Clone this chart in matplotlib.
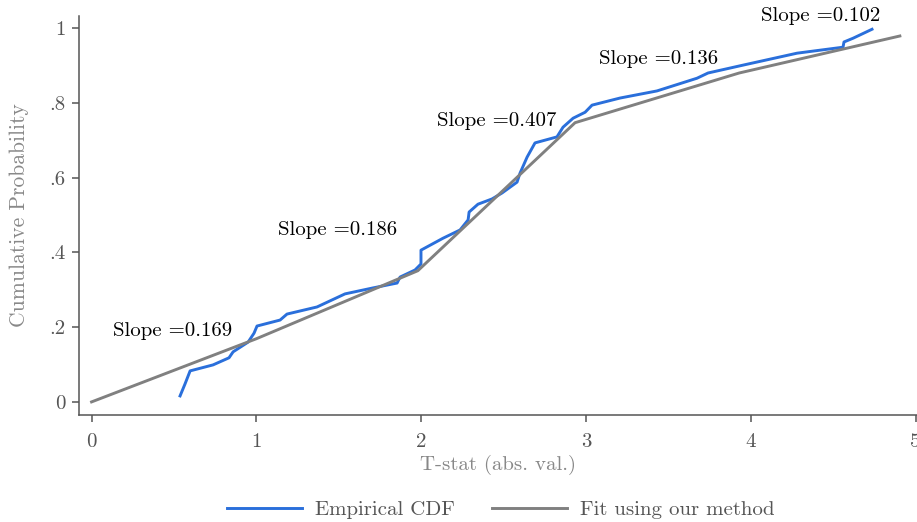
import matplotlib
matplotlib.use("Agg")
import matplotlib.pyplot as plt

plt.rcParams['font.family'] = 'serif'
plt.rcParams['font.serif'] = ['cmr10']
plt.rcParams['mathtext.fontset'] = 'cm'
plt.rcParams['axes.formatter.use_mathtext'] = True

# Empirical CDF
emp_x = [0.537, 0.567, 0.598, 0.737, 0.834, 0.859, 0.950, 0.986, 1.004, 1.144,
         1.186, 1.368, 1.538, 1.708, 1.854, 1.872, 1.963, 1.999, 1.999, 2.133,
         2.236, 2.285, 2.291, 2.345, 2.430, 2.491, 2.582, 2.600, 2.630, 2.643,
         2.691, 2.824, 2.861, 2.922, 2.995, 3.037, 3.207, 3.431, 3.674, 3.741,
         3.953, 4.281, 4.560, 4.566, 4.621, 4.736]
emp_y = [0.016, 0.048, 0.083, 0.099, 0.118, 0.134, 0.160, 0.184, 0.203, 0.219,
         0.235, 0.254, 0.289, 0.305, 0.318, 0.334, 0.353, 0.369, 0.406, 0.438,
         0.460, 0.487, 0.508, 0.529, 0.543, 0.559, 0.588, 0.612, 0.642, 0.655,
         0.693, 0.709, 0.735, 0.759, 0.775, 0.794, 0.813, 0.832, 0.866, 0.880,
         0.901, 0.933, 0.949, 0.963, 0.973, 0.997]

# Piecewise-linear fit
fit_x = [0.0, 1.0, 1.98, 2.934, 3.93, 4.905]
fit_y = [0.0, 0.169, 0.351, 0.747, 0.880, 0.979]

# Slope annotations
slope_labels = ["Slope =0.169", "Slope =0.186", "Slope =0.407", "Slope =0.136", "Slope =0.102"]
slope_x = [0.13, 1.13, 2.097, 3.08, 4.06]
slope_y = [0.19, 0.46, 0.751, 0.917, 1.032]

xticks = [0, 1, 2, 3, 4, 5]
xtick_labels = ["0", "1", "2", "3", "4", "5"]
yticks = [0, 0.2, 0.4, 0.6, 0.8, 1.0]
ytick_labels = ["0", ".2", ".4", ".6", ".8", "1"]

fig = plt.figure(figsize=(9.17, 5.22), dpi=100)
ax = fig.add_axes([0.0862, 0.205, 0.9138, 0.764])

blue = '#2a6fdb'
gray = '#808080'
ax.plot(emp_x, emp_y, color=blue, lw=2.1, label='Empirical CDF', solid_joinstyle='round')
ax.plot(fit_x, fit_y, color=gray, lw=2.1, label='Fit using our method')

for t, x, y in zip(slope_labels, slope_x, slope_y):
    ax.text(x, y, t, fontsize=15, color='black', ha='left', va='center')

ax.set_xlim(-0.076, 5.009)
ax.set_ylim(-0.035, 1.032)
ax.set_xticks(xticks)
ax.set_xticklabels(xtick_labels)
ax.set_yticks(yticks)
ax.set_yticklabels(ytick_labels)

for s in ['top', 'right']:
    ax.spines[s].set_visible(False)
for s in ['left', 'bottom']:
    ax.spines[s].set_color('#555555')
    ax.spines[s].set_linewidth(1.1)
ax.tick_params(axis='both', colors='#555555', labelcolor='#555555', labelsize=15,
               length=5, width=1.1, direction='out')
ax.tick_params(axis='x', pad=8)
ax.tick_params(axis='y', pad=5)

ax.set_xlabel('T-stat (abs. val.)', fontsize=15, color='#888888', labelpad=3)
ax.set_ylabel('Cumulative Probability', fontsize=15.5, color='#888888', labelpad=14)

fig.legend(loc='lower center', bbox_to_anchor=(0.546, -0.03), ncol=2, frameon=False,
           fontsize=15, handlelength=3.6, columnspacing=1.8, handletextpad=0.6,
           labelcolor='#555555')

fig.savefig('out.png', dpi=100)
